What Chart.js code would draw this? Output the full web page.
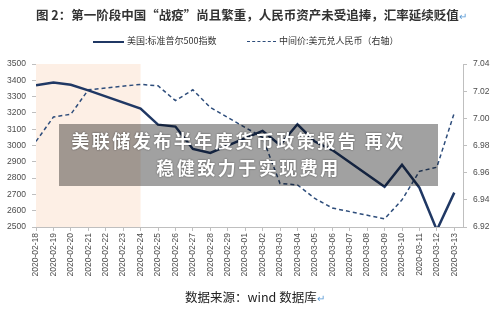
<!DOCTYPE html>
<html>
<head>
<meta charset="utf-8">
<script src="https://cdn.jsdelivr.net/npm/chart.js@4/dist/chart.umd.min.js"></script>
<style>
  html, body { margin: 0; padding: 0; background: #fff; }
  #wrap { position: relative; width: 500px; height: 311px; overflow: hidden; font-family: 'Noto Sans CJK SC', sans-serif; }
  #chart { position: absolute; left: 0; top: 0; }
  .title { position: absolute; left: 36px; top: 5px; font-size: 12.5px; font-weight: bold; color: #333; white-space: nowrap; }
  .mark { color: #5b9bd5; font-weight: normal; font-size: 10px; }
  .legend { position: absolute; top: 34px; font-size: 9px; color: #333; white-space: nowrap; line-height: 14px; }
  .legend i { display: inline-block; width: 31px; vertical-align: middle; margin-right: 3px; }
  .source { position: absolute; left: 185px; top: 287px; font-size: 12.5px; color: #222; white-space: nowrap; }
  .overlay { position: absolute; left: 59px; top: 124px; width: 379px; height: 62px; background: rgba(0,0,0,0.37);
             color: #fff; font-weight: bold; font-size: 18px; letter-spacing: 2.5px; text-align: center; line-height: 27px;
             text-shadow: 0 0 2px rgba(0,0,0,0.55); }
  .overlay div:first-child { padding-top: 3px; margin-left: -20px; }
</style>
</head>
<body>
<div id="wrap">
  <canvas id="chart" width="500" height="311"></canvas>
  <div class="title">图 2：第一阶段中国“战疫”尚且繁重，人民币资产未受追捧，汇率延续贬值<span class="mark">↵</span></div>
  <div class="legend" style="left:93px"><i style="border-top:2.5px solid #203864"></i>美国:标准普尔500指数</div>
  <div class="legend" style="left:247px"><i style="width:29px;border-top:1.5px dashed #2e4d7b"></i>中间价:美元兑人民币（右轴）</div>
  <div class="overlay"><div>美联储发布半年度货币政策报告 再次</div><div>稳健致力于实现费用</div></div>
  <div class="source">数据来源：wind 数据库<span class="mark">↵</span></div>
</div>
<script>
// ─── Data ────────────────────────────────────────────────────────────────────
const dates = [
  '2020-02-18', '2020-02-19', '2020-02-20', '2020-02-21', '2020-02-22', '2020-02-23', '2020-02-24',
  '2020-02-25', '2020-02-26', '2020-02-27', '2020-02-28', '2020-02-29', '2020-03-01', '2020-03-02',
  '2020-03-03', '2020-03-04', '2020-03-05', '2020-03-06', '2020-03-07', '2020-03-08', '2020-03-09',
  '2020-03-10', '2020-03-11', '2020-03-12', '2020-03-13',
];

// S&P 500 close (weekends have no value)
const spx = [
  3370, 3386, 3373, 3338, null, null, 3226,
  3128, 3116, 2979, 2954, null, null, 3090,
  3003, 3130, 3024, 2972, null, null, 2747,
  2882, 2741, 2481, 2711,
];

// USD/CNY central parity (right axis)
const usdcny = [
  6.983, 7.001, 7.003, 7.021, null, null, 7.025,
  7.024, 7.013, 7.021, 7.008, null, null, 6.986,
  6.952, 6.951, 6.941, 6.934, null, null, 6.926,
  6.940, 6.961, 6.964, 7.004,
];

const shadeFrom = '2020-02-18';
const shadeTo = '2020-02-24';

const leftTicks = { min: 2500, max: 3500, step: 100 };
const rightTicks = { min: 6.92, max: 7.04, step: 0.02 };

// ─── Style ───────────────────────────────────────────────────────────────────
const AXIS = '#bfbfbf';
const TICK_TXT = '#4d4d4d';
const TICK_FONT = { family: 'Liberation Sans', size: 8.5 };

const toPoints = arr => arr.map((v, i) => ({ x: i, y: v }));

// peach band behind the lines
const shadePlugin = {
  id: 'shade',
  beforeDatasetsDraw(chart) {
    const { ctx, chartArea, scales } = chart;
    const x0 = scales.x.getPixelForValue(dates.indexOf(shadeFrom));
    const x1 = scales.x.getPixelForValue(dates.indexOf(shadeTo));
    ctx.save();
    ctx.fillStyle = '#fdefe5';
    ctx.fillRect(x0, chartArea.top, x1 - x0, chartArea.bottom - chartArea.top);
    ctx.restore();
  },
};

new Chart(document.getElementById('chart'), {
  type: 'line',
  data: {
    datasets: [
      {
        label: '美国:标准普尔500指数',
        data: toPoints(spx),
        yAxisID: 'y',
        borderColor: '#203864',
        borderWidth: 2.5,
        pointRadius: 0,
        spanGaps: true,
        tension: 0,
      },
      {
        label: '中间价:美元兑人民币（右轴）',
        data: toPoints(usdcny),
        yAxisID: 'y1',
        borderColor: '#2e4d7b',
        borderWidth: 1.5,
        borderDash: [4, 3],
        pointRadius: 0,
        spanGaps: true,
        tension: 0,
      },
    ],
  },
  options: {
    responsive: false,
    animation: false,
    layout: { padding: { top: 64, left: 0, right: 0, bottom: 0 } },
    plugins: { legend: { display: false }, tooltip: { enabled: false } },
    scales: {
      x: {
        type: 'linear',
        min: 0,
        max: dates.length - 0.5,
        afterFit: s => { s.height = 84; },
        grid: { drawOnChartArea: false, color: AXIS, tickLength: 4 },
        border: { color: AXIS },
        ticks: {
          stepSize: 1,
          includeBounds: false,
          autoSkip: false,
          minRotation: 90,
          maxRotation: 90,
          padding: 2,
          color: TICK_TXT,
          font: TICK_FONT,
          callback: v => dates[v],
        },
      },
      y: {
        position: 'left',
        min: leftTicks.min,
        max: leftTicks.max,
        afterFit: s => { s.width = 36; },
        grid: { drawOnChartArea: false, color: AXIS, tickLength: 4 },
        border: { color: AXIS },
        ticks: { stepSize: leftTicks.step, padding: 6, color: TICK_TXT, font: TICK_FONT, callback: v => String(v) },
      },
      y1: {
        position: 'right',
        min: rightTicks.min,
        max: rightTicks.max,
        afterFit: s => { s.width = 37; },
        grid: { drawOnChartArea: false, color: AXIS, tickLength: 4 },
        border: { color: AXIS },
        ticks: { stepSize: rightTicks.step, padding: 6, color: TICK_TXT, font: TICK_FONT, callback: v => v.toFixed(2) },
      },
    },
  },
  plugins: [shadePlugin],
});
</script>
</body>
</html>
